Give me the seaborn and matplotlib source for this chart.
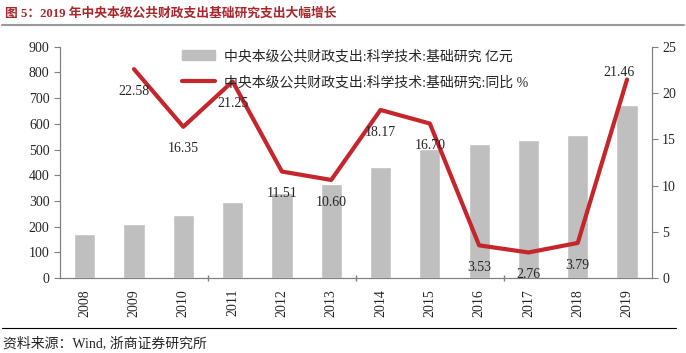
import numpy as np
import pandas as pd
import matplotlib
matplotlib.use("Agg")
import matplotlib.pyplot as plt
import seaborn as sns
from matplotlib.lines import Line2D

# 数据
years = ["2008", "2009", "2010", "2011", "2012", "2013",
         "2014", "2015", "2016", "2017", "2018", "2019"]
spend = [171, 210, 244, 296, 330, 365, 431, 504, 522, 536, 556, 675]
growth = [np.nan, 22.58, 16.35, 21.25, 11.51, 10.60,
          18.17, 16.70, 3.53, 2.76, 3.79, 21.46]
label_bar = "中央本级公共财政支出:科学技术:基础研究 亿元"
label_line = "中央本级公共财政支出:科学技术:基础研究:同比 %"

sns.set_style("white")
plt.rcParams['font.family'] = ['Liberation Serif', 'Noto Sans CJK SC']

df = pd.DataFrame({"year": years, "spend": spend, "growth": growth})
pos = np.arange(len(years))

fig = plt.figure(figsize=(6.86, 3.53), dpi=100)
ax = fig.add_axes([0.0875, 0.2125, 0.8625, 0.655])

sns.barplot(data=df, x="year", y="spend", color="#BFBFBF", saturation=1,
            width=0.43, ax=ax)
ax.set_xlim(-0.5, len(years) - 0.5)
ax.set_ylim(0, 900)
ax.set_yticks(range(0, 901, 100))
ax.set_xlabel("")
ax.set_ylabel("")
ax.tick_params(axis="x", labelrotation=90, labelsize=10, length=0, pad=8)
ax.tick_params(axis="y", labelsize=10, length=4, color="#808080", direction="out", left=True)
ax.set_xticks([2.5, 5.5, 8.5], minor=True)
ax.tick_params(axis="x", which="minor", length=5, width=1, color="#808080",
               direction="inout", bottom=True)

ax2 = ax.twinx()
sns.lineplot(x=pos, y=growth, color="#C4262B", linewidth=3, ax=ax2)
ax2.set_ylim(0, 25)
ax2.set_yticks(range(0, 26, 5))
ax2.tick_params(axis="y", labelsize=10, length=4, color="#808080", direction="out", right=True)

for a in (ax, ax2):
    a.spines["top"].set_visible(False)
    for s in ("left", "right", "bottom"):
        a.spines[s].set_color("#808080")

# 数据标签
for i, g in enumerate(growth):
    if np.isnan(g):
        continue
    if years[i] == "2019":
        ax2.annotate(f"{g:.2f}", (i, g), xytext=(-6, 5), textcoords="offset points",
                     ha="center", va="center", fontsize=10)
    else:
        ax2.annotate(f"{g:.2f}", (i, g), xytext=(0, -16), textcoords="offset points",
                     ha="center", va="center", fontsize=10)

handles = [plt.Rectangle((0, 0), 1, 1, color="#BFBFBF"),
           Line2D([0], [0], color="#C4262B", linewidth=3)]
ax2.legend(handles, [label_bar, label_line], loc="upper left",
           bbox_to_anchor=(0.247, 0.895), bbox_transform=fig.transFigure,
           frameon=False, fontsize=10, handlelength=2.4, handletextpad=0.6,
           labelspacing=0.9)

# 标题和来源
fig.text(0.008, 0.963, "图 5：2019 年中央本级公共财政支出基础研究支出大幅增长",
         color="#A8282C", fontsize=9.2, fontweight="bold", va="center",
         family=['Liberation Serif', 'Noto Sans CJK SC'])
fig.add_artist(Line2D([0.003, 0.997], [0.928, 0.928], color="#9A9A9A", linewidth=1.5))
fig.add_artist(Line2D([0.003, 0.985], [0.072, 0.072], color="black", linewidth=0.8))
fig.text(0.005, 0.028, "资料来源：Wind, 浙商证券研究所", fontsize=10, va="center")

fig.savefig("out.png", dpi=100)
